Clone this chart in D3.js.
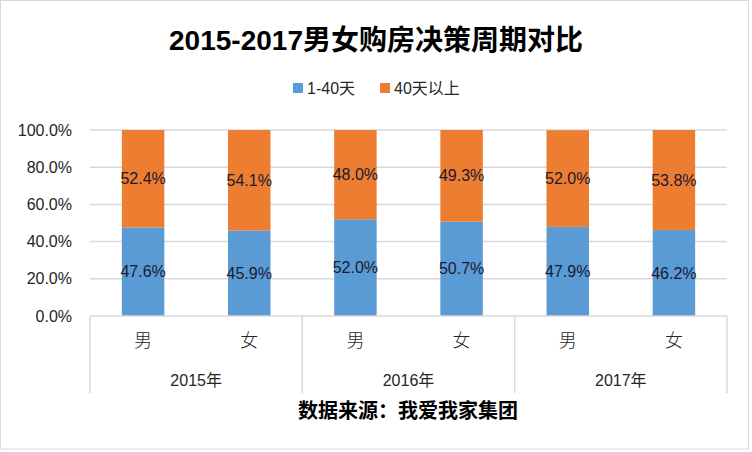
<!DOCTYPE html>
<html>
<head>
<meta charset="utf-8">
<script src="https://d3js.org/d3.v7.min.js"></script>
<style>
  body { margin: 0; background: #fff; }
  text { font-family: "Liberation Sans", "Noto Sans CJK SC", sans-serif; }
</style>
</head>
<body>
<div id="chart"></div>
<script>
// canvas
var w = 752, h = 452;
var margin = {top: 130, right: 25, bottom: 136, left: 90};
var width = 727 - margin.left;
var height = 316 - margin.top;

// data
var years = ["2015年", "2016年", "2017年"];
var genders = ["男", "女"];
var series = ["1-40天", "40天以上"];
var short = [47.6, 45.9, 52.0, 50.7, 47.9, 46.2];   // 1-40天
var long = [52.4, 54.1, 48.0, 49.3, 52.0, 53.8];    // 40天以上
var yTicks = [0, 20, 40, 60, 80, 100];
var colors = ["#5b9bd5", "#ed7d31"];

var rows = [];
years.forEach(function(y, i) {
    genders.forEach(function(g, j) {
        var k = i * 2 + j;
        rows.push({key: y + g, year: y, gender: g, a: short[k], b: long[k]});
    });
});

var svg = d3.select("#chart").append("svg")
    .attr("width", w).attr("height", h);

// outer border
svg.append("rect")
    .attr("x", 0.5).attr("y", 0.5)
    .attr("width", w - 4).attr("height", h - 3.5)
    .attr("fill", "#fff").attr("stroke", "#d9d9d9");

var g = svg.append("g")
    .attr("transform", "translate(" + margin.left + "," + margin.top + ")");

// scales
var xScale = d3.scaleBand().domain(rows.map(function(d) { return d.key; }))
    .range([0, width]).paddingInner(0.6).paddingOuter(0.3);
var yearScale = d3.scaleBand().domain(years).range([0, width]);
var yScale = d3.scaleLinear().domain([0, 100]).range([height, 0]);

// grid
g.selectAll("line.grid").data(yTicks.slice(1)).enter().append("line")
    .attr("class", "grid")
    .attr("x1", 0).attr("x2", width)
    .attr("y1", function(d) { return yScale(d); })
    .attr("y2", function(d) { return yScale(d); })
    .attr("stroke", "#d9d9d9").attr("stroke-width", 1.5);

// y axis labels
var yAxis = d3.axisLeft(yScale).tickValues(yTicks)
    .tickFormat(function(d) { return d.toFixed(1) + "%"; })
    .tickSize(0).tickPadding(18);
var ya = g.append("g").attr("class", "y axis").call(yAxis);
ya.select(".domain").remove();
ya.selectAll("text").attr("font-size", 16).attr("fill", "#262626")
    .style("font-family", "Liberation Sans");

// stacked bars
var stack = d3.stack().keys(["a", "b"])(rows);
var layers = g.selectAll("g.layer").data(stack).enter().append("g")
    .attr("class", "layer")
    .attr("fill", function(d, i) { return colors[i]; });

layers.selectAll("rect").data(function(d) { return d; }).enter().append("rect")
    .attr("x", function(d) { return xScale(d.data.key); })
    .attr("width", xScale.bandwidth())
    .attr("y", function(d) { return yScale(d[1]); })
    .attr("height", function(d) { return yScale(d[0]) - yScale(d[1]); });

layers.selectAll("text").data(function(d) { return d; }).enter().append("text")
    .attr("x", function(d) { return xScale(d.data.key) + xScale.bandwidth() / 2; })
    .attr("y", function(d) { return (yScale(d[0]) + yScale(d[1])) / 2; })
    .attr("dy", "0.35em")
    .attr("text-anchor", "middle")
    .attr("font-size", 16)
    .attr("fill", "#1a1a2e")
    .text(function(d) { return (d[1] - d[0]).toFixed(1) + "%"; });

// category axis
var axis = g.append("g").attr("transform", "translate(0," + height + ")");
axis.append("line").attr("x1", 0).attr("x2", width)
    .attr("stroke", "#d9d9d9").attr("stroke-width", 1.5);
var seps = [0].concat(years.map(function(y) { return yearScale(y) + yearScale.bandwidth(); }));
axis.selectAll("line.sep").data(seps).enter().append("line")
    .attr("class", "sep")
    .attr("x1", function(d) { return d; }).attr("x2", function(d) { return d; })
    .attr("y1", 0).attr("y2", 77)
    .attr("stroke", "#d9d9d9").attr("stroke-width", 1.5);

axis.selectAll("text.gender").data(rows).enter().append("text")
    .attr("class", "gender")
    .attr("x", function(d) { return xScale(d.key) + xScale.bandwidth() / 2; })
    .attr("y", 31)
    .attr("text-anchor", "middle")
    .attr("font-size", 18).attr("fill", "#262626")
    .style("font-family", "Noto Sans CJK SC").style("font-weight", 300)
    .text(function(d) { return d.gender; });

axis.selectAll("text.year").data(years).enter().append("text")
    .attr("class", "year")
    .attr("x", function(d) { return yearScale(d) + yearScale.bandwidth() / 2; })
    .attr("y", 70)
    .attr("text-anchor", "middle")
    .attr("font-size", 16).attr("fill", "#262626")
    .text(function(d) { return d; });

// title
svg.append("text")
    .attr("x", 376).attr("y", 50)
    .attr("text-anchor", "middle")
    .attr("font-size", 28).attr("font-weight", "bold").attr("fill", "#000")
    .text("2015-2017男女购房决策周期对比");

// legend
var legend = svg.append("g").attr("transform", "translate(293,88)");
var lx = [0, 87];
var li = legend.selectAll("g").data(series).enter().append("g")
    .attr("transform", function(d, i) { return "translate(" + lx[i] + ",0)"; });
li.append("rect").attr("x", 0).attr("y", -5).attr("width", 10).attr("height", 10)
    .attr("fill", function(d, i) { return colors[i]; });
li.append("text").attr("x", 14).attr("dy", "0.35em")
    .attr("font-size", 16).attr("fill", "#262626")
    .text(function(d) { return d; });

// source
svg.append("text")
    .attr("x", 408).attr("y", 418)
    .attr("text-anchor", "middle")
    .attr("font-size", 20).attr("font-weight", "bold").attr("fill", "#000")
    .style("font-family", "Noto Sans CJK SC")
    .text("数据来源：我爱我家集团");
</script>
</body>
</html>
